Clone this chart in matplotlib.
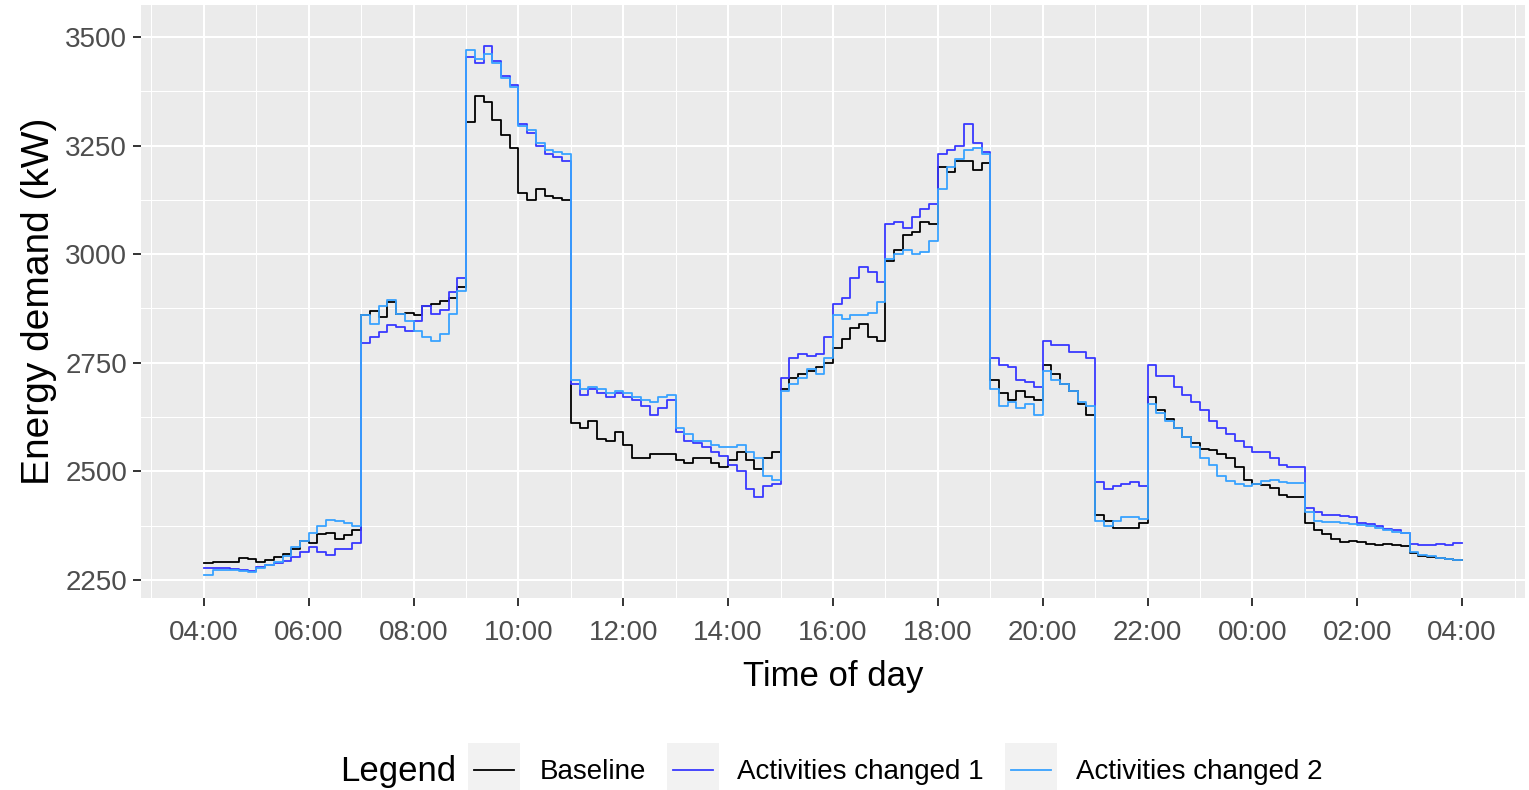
import matplotlib.pyplot as plt
from matplotlib.patches import Rectangle
from matplotlib.lines import Line2D
import numpy as np

plt.rcParams['font.family'] = ['Liberation Sans', 'DejaVu Sans']

# energy demand (kW) in 10-minute steps, 04:00 to 04:00 next day (one row per hour)
baseline = [
    2289, 2290, 2291, 2290, 2300, 2298,
    2290, 2296, 2302, 2310, 2320, 2340,
    2335, 2355, 2358, 2345, 2352, 2365,
    2860, 2870, 2855, 2890, 2862, 2865,
    2860, 2880, 2885, 2893, 2900, 2925,
    3305, 3365, 3350, 3310, 3275, 3245,
    3140, 3125, 3150, 3135, 3130, 3125,
    2610, 2600, 2615, 2575, 2570, 2590,
    2560, 2530, 2530, 2540, 2540, 2540,
    2525, 2520, 2530, 2530, 2520, 2510,
    2525, 2545, 2525, 2505, 2530, 2545,
    2690, 2715, 2725, 2730, 2740, 2750,
    2785, 2805, 2830, 2840, 2810, 2800,
    2985, 3010, 3045, 3050, 3075, 3070,
    3200, 3190, 3215, 3215, 3195, 3210,
    2710, 2680, 2665, 2685, 2670, 2665,
    2745, 2725, 2700, 2685, 2655, 2630,
    2400, 2385, 2370, 2370, 2370, 2380,
    2670, 2640, 2620, 2600, 2580, 2565,
    2552, 2549, 2540, 2530, 2510, 2480,
    2470, 2468, 2462, 2445, 2440, 2440,
    2380, 2365, 2355, 2343, 2338, 2340,
    2336, 2333, 2330, 2333, 2330, 2328,
    2312, 2304, 2302, 2300, 2298, 2296,
]

changed_1 = [
    2278, 2277, 2276, 2275, 2272, 2270,
    2280, 2285, 2288, 2293, 2302, 2315,
    2325, 2315, 2308, 2322, 2322, 2335,
    2795, 2810, 2820, 2838, 2833, 2822,
    2845, 2880, 2862, 2872, 2912, 2945,
    3455, 3440, 3480, 3445, 3410, 3390,
    3300, 3280, 3250, 3230, 3225, 3215,
    2700, 2675, 2690, 2680, 2670, 2680,
    2670, 2665, 2650, 2630, 2645, 2665,
    2590, 2570, 2565, 2555, 2545, 2535,
    2515, 2500, 2460, 2440, 2465, 2470,
    2715, 2760, 2770, 2765, 2770, 2810,
    2885, 2900, 2945, 2970, 2960, 2935,
    3070, 3075, 3060, 3085, 3105, 3115,
    3230, 3240, 3250, 3300, 3255, 3235,
    2760, 2745, 2740, 2710, 2705, 2695,
    2800, 2790, 2790, 2775, 2775, 2760,
    2475, 2460, 2465, 2470, 2475, 2465,
    2745, 2720, 2720, 2695, 2675, 2660,
    2640, 2615, 2600, 2585, 2570, 2555,
    2545, 2545, 2530, 2515, 2510, 2510,
    2415, 2405, 2400, 2400, 2398, 2395,
    2380, 2378, 2373, 2368, 2365, 2357,
    2332, 2330, 2330, 2332, 2330, 2335,
]

changed_2 = [
    2262, 2272, 2273, 2273, 2270, 2268,
    2278, 2285, 2292, 2305, 2325, 2340,
    2358, 2375, 2388, 2385, 2380, 2375,
    2860, 2840, 2880, 2895, 2862, 2845,
    2822, 2810, 2800, 2815, 2862, 2915,
    3470, 3450, 3460, 3440, 3405, 3385,
    3295, 3285, 3255, 3240, 3235, 3230,
    2710, 2690, 2695, 2690, 2680, 2685,
    2680, 2670, 2665, 2660, 2670, 2675,
    2600, 2585, 2570, 2570, 2560, 2555,
    2555, 2560, 2545, 2530, 2490, 2480,
    2685, 2700, 2715, 2735, 2725, 2760,
    2860, 2850, 2860, 2860, 2865, 2890,
    2990, 3000, 3010, 3000, 3005, 3030,
    3150, 3200, 3220, 3240, 3245, 3230,
    2690, 2650, 2660, 2645, 2655, 2630,
    2730, 2710, 2700, 2685, 2660, 2650,
    2385, 2375, 2385, 2395, 2395, 2390,
    2655, 2635, 2615, 2600, 2580, 2555,
    2530, 2515, 2490, 2478, 2470, 2465,
    2470, 2478, 2480, 2475, 2473, 2473,
    2405, 2385, 2383, 2383, 2381, 2378,
    2377, 2373, 2370, 2365, 2360, 2358,
    2315, 2308, 2304, 2300, 2298, 2295,
]

series = [baseline, changed_1, changed_2]
series_names = ['Baseline', 'Activities changed 1', 'Activities changed 2']
series_colors = ['black', '#3838FF', '#38A2FF']

hour_ticks = list(range(4, 29, 2))
tick_labels = ['%02d:00' % (h % 24) for h in hour_ticks]
y_ticks = [2250, 2500, 2750, 3000, 3250, 3500]

W, H = 1529, 790
fig = plt.figure(figsize=(W / 100, H / 100), dpi=100)
ax = fig.add_axes([141 / W, 1 - 598 / H, (1525 - 141) / W, (598 - 5) / H])
ax.set_facecolor('#EBEBEB')

t = 4 + np.arange(len(baseline) + 1) / 6
for vals, col in zip(series, series_colors):
    ax.step(t, vals + [vals[-1]], where='post', color=col, lw=1.3, zorder=3)

ax.set_xlim(2.8, 29.2)
ax.set_ylim(2208, 3574)
ax.set_xticks(hour_ticks)
ax.set_xticklabels(tick_labels)
ax.set_yticks(y_ticks)
ax.set_xticks(list(range(3, 30, 2)), minor=True)
ax.set_yticks([2375, 2625, 2875, 3125, 3375], minor=True)
ax.grid(which='major', color='white', lw=1.5, zorder=1)
ax.grid(which='minor', color='white', lw=0.75, zorder=1)
ax.set_axisbelow(True)
for s in ax.spines.values():
    s.set_visible(False)
ax.tick_params(which='major', length=6, width=1.4, color='#333333',
               labelcolor='#4D4D4D', labelsize=20)
ax.tick_params(axis='x', which='major', pad=10)
ax.tick_params(axis='y', which='major', pad=4)
ax.tick_params(which='minor', length=0)

ax.set_xlabel('Time of day', fontsize=25, color='black', labelpad=10)
ax.set_ylabel('Energy demand (kW)', fontsize=28, color='black', labelpad=6)

# legend row along the bottom
def fx(px):
    return px / W

def fy(py):
    return 1 - py / H

fig.text(fx(340), fy(772), 'Legend', fontsize=25, va='center', ha='left')
key_left = [468, 667, 1005]
label_left = [540, 737, 1076]
for kx, lx, name, col in zip(key_left, label_left, series_names, series_colors):
    fig.add_artist(Rectangle((fx(kx), fy(795)), fx(52), 52 / H,
                             transform=fig.transFigure, facecolor='#F2F2F2',
                             edgecolor='none'))
    fig.add_artist(Line2D([fx(kx + 6), fx(kx + 46)], [fy(770), fy(770)],
                          transform=fig.transFigure, color=col, lw=1.3))
    fig.text(fx(lx), fy(772), name, fontsize=20, va='center', ha='left')

fig.savefig('out.png', dpi=100)
